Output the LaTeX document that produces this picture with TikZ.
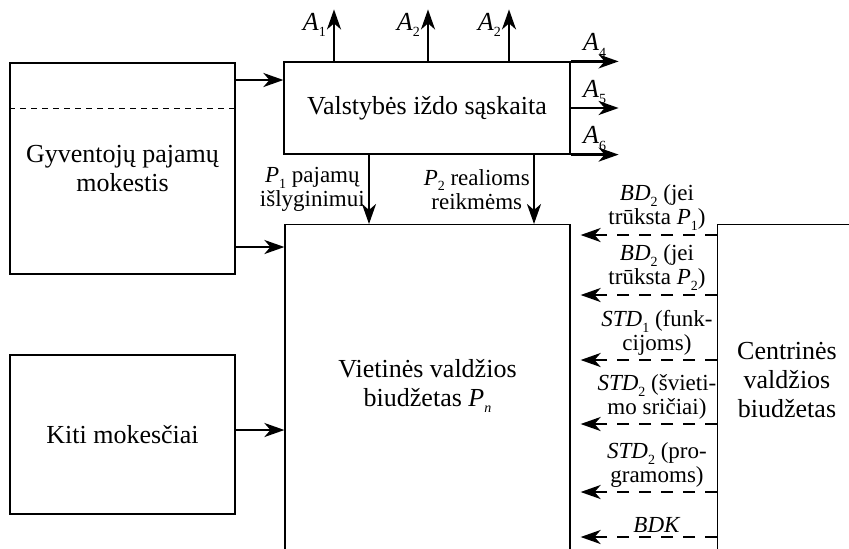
\documentclass[tikz,border=0pt]{standalone}
\usepackage{fontspec}
\setmainfont{Liberation Serif}
\usetikzlibrary{arrows.meta, positioning, calc}

\newcommand{\bigfont}{\fontsize{13}{14.5}\selectfont}
\newcommand{\smallfont}{\fontsize{11.5}{12}\selectfont}
\newcommand{\idx}[2]{\textit{#1}\raisebox{-0.55ex}{\scriptsize #2}}

\begin{document}
\begin{tikzpicture}[
    x=0.5pt, y=-0.5pt,
    box/.style={rectangle, draw, line width=0.6pt, align=center, font=\bigfont},
    arrow/.style={line width=1.25pt, -{Stealth[length=10pt, width=7pt, inset=3pt]}},
    darrow/.style={arrow, dash pattern=on 6pt off 5pt, shorten >=5pt},
    lbl/.style={font=\smallfont, align=center, inner sep=1.5pt}
]
    \useasboundingbox (0,0) rectangle (849,548);

    \node[box, minimum width=112.5pt, minimum height=105.5pt] (gpm) at (122.5,168.5) {Gyventojų pajamų\\mokestis};
    \node[box, minimum width=112.5pt, minimum height=79.5pt] (kiti) at (122.5,434.5) {Kiti mokesčiai};
    \node[box, minimum width=143pt, minimum height=46pt] (vib) at (427,108) {Valstybės iždo sąskaita};
    \node[box, minimum width=142.5pt, minimum height=170pt, anchor=north] (vvb) at (427.5,224) {};
    \node[font=\bigfont, align=center] (vvbtext) at (427.5,386) {Vietinės valdžios\\biudžetas \idx{P}{\textit{n}}};
    \node[box, minimum width=76.5pt, minimum height=170pt, anchor=north west] (cvb) at (717,224) {};
    \node[font=\bigfont, align=center] (cvbtext) at (787,380) {Centrinės\\valdžios\\biudžetas};

    \draw[dashed, line width=0.5pt, dash pattern=on 3pt off 2.5pt] (gpm.west |- 0,108) -- (gpm.east |- 0,108);

    \draw[arrow] (gpm.east |- 0,80) -- (vib.west |- 0,80);
    \draw[arrow] (gpm.east |- 0,247) -- (vvb.west |- 0,247);
    \draw[arrow] (kiti.east |- 0,430) -- (vvb.west |- 0,430);

    % outflows from the treasury account
    \foreach \x/\n in {334/1, 428/2, 509/2}
        \draw[arrow] (vib.north -| \x,0) -- ++(0,-52) node[pos=0.7, left=2pt, lbl, font=\bigfont] {\idx{A}{\n}};
    \foreach \a/\n in {north east/4, east/5, south east/6}
        \draw[arrow] (vib.\a) -- ++(48,0) node[midway, above, lbl, font=\bigfont] {\idx{A}{\n}};

    \draw[arrow] (vib.south -| 369,0) -- (vvb.north -| 369,0) node[midway, left, lbl] {\idx{P}{1} pajamų\\išlyginimui};
    \draw[arrow] (vib.south -| 534,0) -- (vvb.north -| 534,0) node[midway, left, lbl] {\idx{P}{2} realioms\\reikmėms};

    % transfers from the central budget
    \foreach \y/\txt in {235/{\idx{BD}{2} (jei\\trūksta \idx{P}{1})},
                         295/{\idx{BD}{2} (jei\\trūksta \idx{P}{2})},
                         360/{\idx{STD}{1} (funk-\\cijoms)},
                         424/{\idx{STD}{2} (švieti-\\mo sričiai)},
                         492/{\idx{STD}{2} (pro-\\gramoms)},
                         537/{\textit{BDK}}}
        \draw[darrow] (cvb.west |- 0,\y) -- (vvb.east |- 0,\y) node[pos=0.41, above, lbl] {\txt};
\end{tikzpicture}
\end{document}
